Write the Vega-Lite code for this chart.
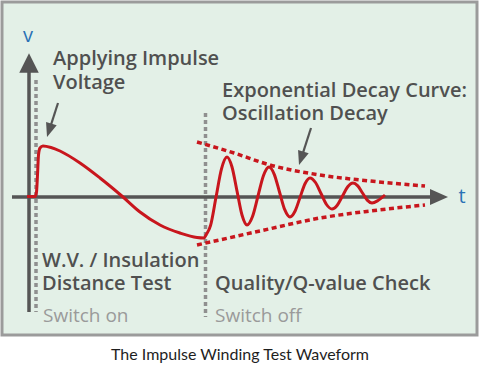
{
  "$schema": "https://vega.github.io/schema/vega-lite/v6.json",
  "width": 480,
  "height": 369,
  "autosize": {"type": "fit", "contains": "padding"},
  "padding": 0,
  "background": "white",
  "config": {"view": {"stroke": null}},
  "datasets": {
    "frame": [{"t": -27, "t2": 448, "v": 195, "v2": -138}],
    "switchLines": [{"t": 7, "v": 117, "v2": -115}, {"t": 176.5, "v": 84, "v2": -120}],
    "axes": [{"t": 0, "v": -115, "t2": 0, "v2": 127}, {"t": -17, "v": 0, "t2": 403, "v2": 0}],
    "yHead": [{"t": 0, "v": 134}],
    "xHead": [{"t": 410, "v": 0}],
    "envelope": [
      {"side": "upper", "t": 168, "v": 55}, {"side": "upper", "t": 205, "v": 44}, {"side": "upper", "t": 241, "v": 32},
      {"side": "upper", "t": 291, "v": 22}, {"side": "upper", "t": 341, "v": 16}, {"side": "upper", "t": 396, "v": 11},
      {"side": "lower", "t": 168, "v": -48}, {"side": "lower", "t": 231, "v": -34}, {"side": "lower", "t": 291, "v": -21},
      {"side": "lower", "t": 341, "v": -14}, {"side": "lower", "t": 396, "v": -8}
    ],
    "wave": [
      {"t": -2, "v": 0.5}, {"t": 6, "v": 0.5}, {"t": 7.5, "v": 5}, {"t": 8.5, "v": 22}, {"t": 9.5, "v": 42},
      {"t": 11, "v": 49}, {"t": 14, "v": 51}, {"t": 22, "v": 49.5}, {"t": 31, "v": 46}, {"t": 51, "v": 34},
      {"t": 71, "v": 19}, {"t": 94, "v": 0}, {"t": 111, "v": -15}, {"t": 131, "v": -28},
      {"t": 151, "v": -36}, {"t": 168, "v": -40.5}, {"t": 175, "v": -41}, {"t": 177, "v": -38},
      {"t": 181.5, "v": -28.7}, {"t": 187, "v": -0.25}, {"t": 192.5, "v": 28.2}, {"t": 198, "v": 40},
      {"t": 203, "v": 30}, {"t": 208, "v": 6}, {"t": 213, "v": -18}, {"t": 218, "v": -28},
      {"t": 223.5, "v": -19.5}, {"t": 229, "v": 1}, {"t": 234.5, "v": 21.5}, {"t": 240, "v": 30},
      {"t": 245.25, "v": 22.7}, {"t": 250.5, "v": 5}, {"t": 255.75, "v": -12.7}, {"t": 261, "v": -20},
      {"t": 266, "v": -14.3}, {"t": 271, "v": -0.5}, {"t": 276, "v": 13.3}, {"t": 281, "v": 19},
      {"t": 286.5, "v": 14.5}, {"t": 292, "v": 3.5}, {"t": 297.5, "v": -7.5}, {"t": 303, "v": -12},
      {"t": 308.25, "v": -8.2}, {"t": 313.5, "v": 1}, {"t": 318.75, "v": 10.2}, {"t": 324, "v": 14},
      {"t": 328.75, "v": 11.1}, {"t": 333.5, "v": 4}, {"t": 338.25, "v": -3.1}, {"t": 343, "v": -6},
      {"t": 349, "v": -3.5}, {"t": 356, "v": 2}
    ],
    "pointers": [{"t": 29, "v": 94, "t2": 20.2, "v2": 66.7}, {"t": 282, "v": 69, "t2": 272.2, "v2": 38.7}],
    "pointerHeads": [{"t": 20.2, "v": 66.7}, {"t": 272.2, "v": 38.7}],
    "labels": [
      {"t": 24, "v": 132, "label": "Applying Impulse"},
      {"t": 24, "v": 108, "label": "Voltage"},
      {"t": 193, "v": 100, "label": "Exponential Decay Curve:"},
      {"t": 193, "v": 77, "label": "Oscillation Decay"},
      {"t": 13, "v": -70, "label": "W.V. / Insulation"},
      {"t": 13, "v": -93, "label": "Distance Test"},
      {"t": 186, "v": -93, "label": "Quality/Q-value Check"}
    ],
    "switchLabels": [{"t": 14, "v": -125, "label": "Switch on"}, {"t": 186, "v": -125, "label": "Switch off"}],
    "axisLetters": [{"t": -1, "v": 155, "label": "v"}, {"t": 433, "v": -6, "label": "t"}],
    "caption": [{"t": 211, "v": -163, "label": "The Impulse Winding Test Waveform"}]
  },
  "encoding": {
    "x": {"field": "t", "type": "quantitative", "scale": {"domain": [-29, 451], "nice": false, "zero": false}, "axis": null},
    "y": {"field": "v", "type": "quantitative", "scale": {"domain": [-172, 197], "nice": false, "zero": false}, "axis": null}
  },
  "layer": [
    {
      "data": {"name": "frame"},
      "mark": {"type": "rect", "fill": "#e3f0e7", "stroke": "#9b9b9b", "strokeWidth": 3},
      "encoding": {"x2": {"field": "t2"}, "y2": {"field": "v2"}}
    },
    {
      "data": {"name": "switchLines"},
      "mark": {"type": "rule", "color": "#8f8f8f", "strokeWidth": 3.5, "strokeDash": [4, 3]},
      "encoding": {"y2": {"field": "v2"}}
    },
    {
      "data": {"name": "axes"},
      "mark": {"type": "rule", "color": "#555555", "strokeWidth": 3.5},
      "encoding": {"x2": {"field": "t2"}, "y2": {"field": "v2"}}
    },
    {
      "data": {"name": "yHead"},
      "mark": {"type": "point", "shape": "M0,-1L1,1L-1,1Z", "size": 380, "filled": true, "color": "#555555", "opacity": 1},
      "encoding": {}
    },
    {
      "data": {"name": "xHead"},
      "mark": {"type": "point", "shape": "M0,-1L0.9,1L-0.9,1Z", "size": 324, "angle": 90, "filled": true, "color": "#555555", "opacity": 1},
      "encoding": {}
    },
    {
      "data": {"name": "envelope"},
      "mark": {"type": "line", "color": "#c8161d", "strokeWidth": 3.5, "strokeDash": [5, 3.5], "interpolate": "monotone"},
      "encoding": {"detail": {"field": "side"}}
    },
    {
      "data": {"name": "wave"},
      "mark": {"type": "line", "color": "#c8161d", "strokeWidth": 3, "interpolate": "monotone"},
      "encoding": {}
    },
    {
      "data": {"name": "pointers"},
      "mark": {"type": "rule", "color": "#555555", "strokeWidth": 2.2},
      "encoding": {"x2": {"field": "t2"}, "y2": {"field": "v2"}}
    },
    {
      "data": {"name": "pointerHeads"},
      "mark": {"type": "point", "shape": "M0,-1L0.8,1L-0.8,1Z", "size": 196, "angle": 198, "filled": true, "color": "#555555", "opacity": 1},
      "encoding": {}
    },
    {
      "data": {"name": "labels"},
      "mark": {"type": "text", "align": "left", "baseline": "alphabetic", "font": "Open Sans", "fontSize": 20, "fontWeight": 600, "color": "#505050"},
      "encoding": {"text": {"field": "label"}}
    },
    {
      "data": {"name": "switchLabels"},
      "mark": {"type": "text", "align": "left", "baseline": "alphabetic", "font": "Open Sans", "fontSize": 19, "color": "#9a9a9a"},
      "encoding": {"text": {"field": "label"}}
    },
    {
      "data": {"name": "axisLetters"},
      "mark": {"type": "text", "align": "center", "baseline": "alphabetic", "font": "Open Sans", "fontSize": 20, "color": "#2a72b5"},
      "encoding": {"text": {"field": "label"}}
    },
    {
      "data": {"name": "caption"},
      "mark": {"type": "text", "align": "center", "baseline": "alphabetic", "font": "Lato", "fontSize": 16, "color": "#1e1e1e"},
      "encoding": {"text": {"field": "label"}}
    }
  ]
}
